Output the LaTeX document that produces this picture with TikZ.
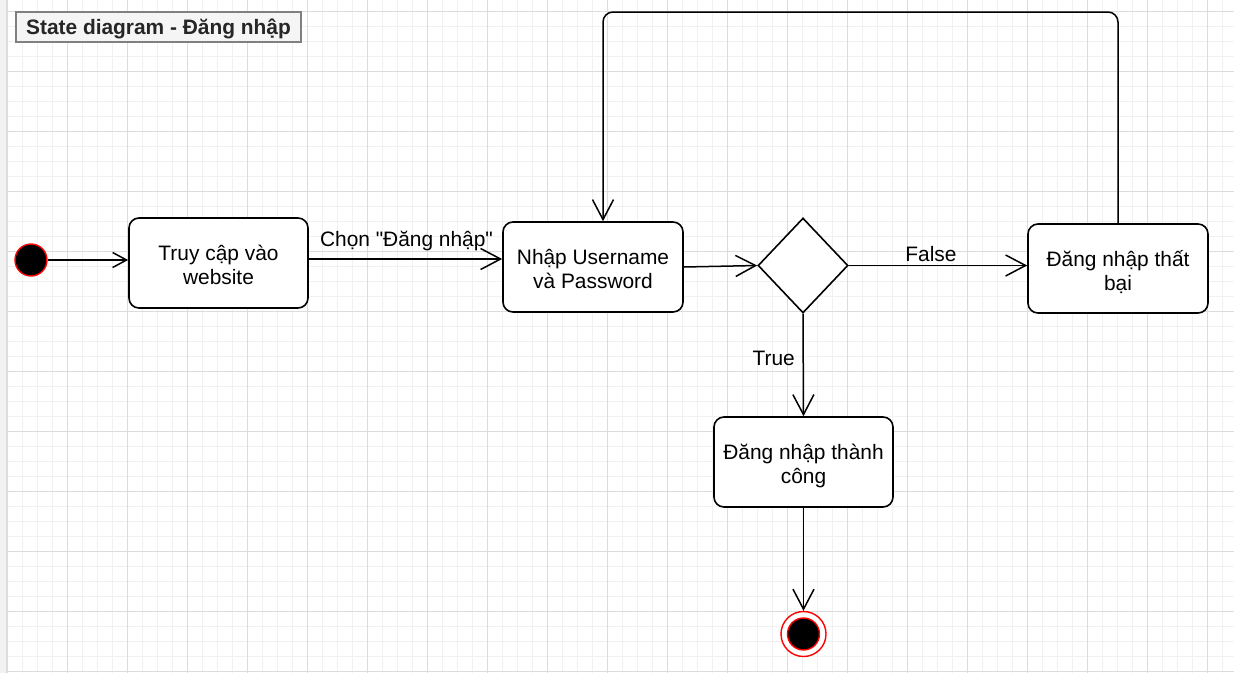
\documentclass[tikz,border=0pt]{standalone}
\usepackage{fontspec}
\setmainfont{Liberation Sans}[Ligatures=TeXOff]
\usetikzlibrary{arrows.meta,shapes.geometric}
\definecolor{minorgrid}{HTML}{F1F1F1}
\definecolor{majorgrid}{HTML}{DCDCDC}
\definecolor{titlefill}{HTML}{F5F5F5}
\definecolor{titleborder}{HTML}{808080}
\definecolor{titletext}{HTML}{262626}
\definecolor{edgestrip}{HTML}{F2F2F2}
\newcommand{\twolines}[2]{\begin{tabular}[t]{@{}c@{}}#1\\#2\end{tabular}}
\tikzset{
  txt/.style={font=\fontsize{20.9}{24}\selectfont},
  lbl/.style={txt, inner sep=0pt, text height=15pt, text depth=0pt},
  statebox/.style={txt, draw=black, fill=white, line width=1.6pt, rounded corners=10pt,
     minimum width=179pt, minimum height=90pt, inner sep=0pt, text height=0pt, text depth=4.8pt},
  decision/.style={diamond, draw=black, fill=white, line width=1.6pt,
     minimum width=90pt, minimum height=95pt, inner sep=0pt},
  initstate/.style={circle, fill=black, draw=red, line width=1.4pt, minimum size=32pt, inner sep=0pt},
  finalring/.style={circle, fill=white, draw=red, line width=1.4pt, minimum size=45pt, inner sep=0pt},
  finaldot/.style={circle, fill=black, draw=red, line width=1.4pt, minimum size=32pt, inner sep=0pt},
  arr/.style={draw=black, line width=1.5pt, -{Straight Barb[length=20pt,width=21pt,line width=1.5pt]}},
  arrsmall/.style={draw=black, line width=1.5pt, -{Straight Barb[length=14pt,width=15pt,line width=1.5pt]}},
  titlebox/.style={draw=titleborder, fill=titlefill, line width=1.6pt, minimum width=285pt,
     minimum height=30pt, inner sep=0pt, text height=15pt, text depth=0pt, text=titletext,
     font=\fontsize{20.9}{24}\selectfont\bfseries}
}
\begin{document}
\begin{tikzpicture}[x=1pt,y=-1pt]
\useasboundingbox (0,0) rectangle (1234,673);
\fill[white] (0,0) rectangle (1234,673);
% grid
\foreach \i in {0,...,82} \draw[minorgrid, line width=1pt] ({7+15*\i},0) -- ({7+15*\i},673);
\foreach \i in {0,...,44} \draw[minorgrid, line width=1pt] (0,{11+15*\i}) -- (1234,{11+15*\i});
\foreach \i in {0,...,20} \draw[majorgrid, line width=1pt] ({7+60*\i},0) -- ({7+60*\i},673);
\foreach \i in {0,...,11} \draw[majorgrid, line width=1pt] (0,{11+60*\i}) -- (1234,{11+60*\i});
\fill[edgestrip] (0,0) rectangle (6.5,673);
\draw[majorgrid, line width=1pt] (6.5,0) -- (6.5,673);

% title
\node[titlebox] (title) at (158.5,27) {State diagram - Đăng nhập};

% states
\node[initstate] (init) at (31,260) {};
\node[statebox] (b1) at (218.5,263) {\twolines{Truy cập vào}{website}};
\node[statebox, minimum width=180pt] (b2) at (593,267) {\twolines{Nhập Username}{và Password}};
\node[decision] (d) at (803,265.5) {};
\node[statebox, minimum width=180pt, minimum height=89pt] (b4) at (1118,268.5) {\twolines{Đăng nhập thất}{bại}};
\node[statebox] (b3) at (803.5,462) {\twolines{Đăng nhập thành}{công}};
\node[finalring] (fin) at (803.5,634) {};
\node[finaldot] (findot) at (fin.center) {};

% connectors
\draw[arrsmall] (init.east) -- (b1.west |- init.east);
\draw[arr] ([yshift=4pt]b1.east) -- ([yshift=4pt]b1.east -| b2.west);
\draw[arr] (b2.east) -- (d.west);
\draw[arr] (d.east) -- (d.east -| b4.west);
\draw[arr] (d.south) -- (b3.north);
\draw[arr] (b3.south) -- (fin.north);
\coordinate (topR) at (1118,12);
\coordinate (topL) at (603,12);
\draw[arr, rounded corners=10pt] (b4.north) -- (topR) -- (topL) -- ([xshift=10pt]b2.north);

% labels
\node[lbl] (lchon) at (406.5,239.3) {Chọn "Đăng nhập"};
\node[lbl] (lfalse) at (931,253.8) {False};
\node[lbl] (ltrue) at (773.7,358.3) {True};
\end{tikzpicture}
\end{document}
